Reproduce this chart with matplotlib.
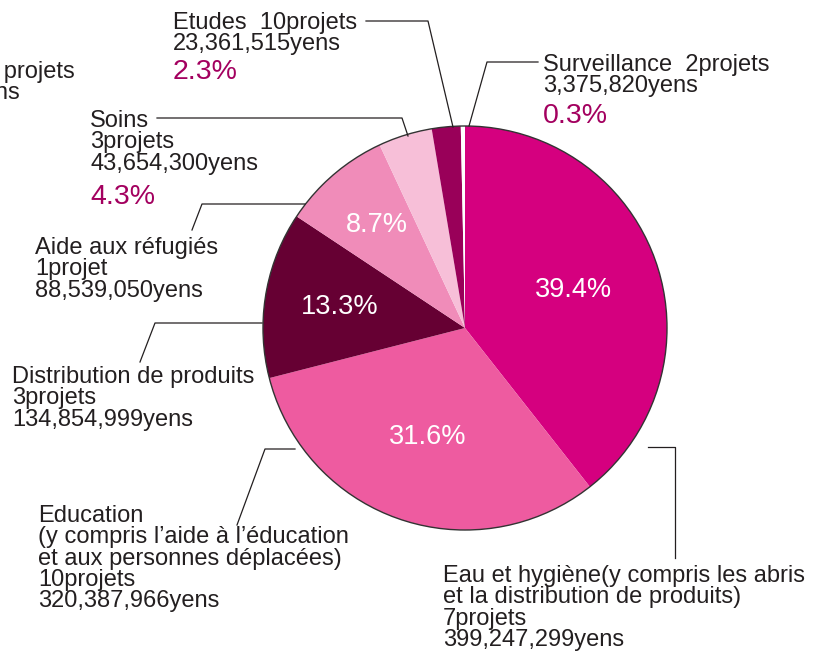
import numpy as np
import matplotlib.pyplot as plt
from matplotlib.patches import Circle

plt.rcParams['font.family'] = ['Liberation Sans', 'DejaVu Sans']

W, H = 830, 653

# data (yens), clockwise from 12 o'clock
categories = ["Eau et hygiène", "Education", "Distribution de produits",
              "Aide aux réfugiés", "Soins", "Etudes", "Surveillance"]
amounts = [399247299, 320387966, 134854999, 88539050, 43654300, 23361515, 3375820]
projects = ["7projets", "10projets", "3projets", "1projet", "3projets", "10projets", "2projets"]
colors = ["#D5007F", "#EE5BA0", "#660033", "#F08CB9", "#F7BFD8", "#990059", "#FFFFFF"]

label_texts = [
    "Eau et hygiène(y compris les abris\net la distribution de produits)\n7projets\n399,247,299yens",
    "Education\n(y compris l\u2019aide à l\u2019éducation\net aux personnes déplacées)\n10projets\n320,387,966yens",
    "Distribution de produits\n3projets\n134,854,999yens",
    "Aide aux réfugiés\n1projet\n88,539,050yens",
    "Soins\n3projets\n43,654,300yens",
    "Etudes  10projets\n23,361,515yens",
    "Surveillance  2projets\n3,375,820yens",
]

total = sum(amounts)
pcts = [a / total * 100 for a in amounts]


def py(y):
    return H - y


fig = plt.figure(figsize=(W / 100, H / 100), dpi=100)
ax = fig.add_axes([0, 0, 1, 1])

cx, cy, R = 465, 328, 202
wedges, _ = ax.pie(amounts, colors=colors, startangle=90, counterclock=False,
                   center=(cx, py(cy)), radius=R,
                   wedgeprops=dict(linewidth=0))
ax.add_patch(Circle((cx, py(cy)), R, fill=False, lw=1.0, ec="#333333", zorder=3))
ax.set_xlim(0, W)
ax.set_ylim(0, H)
ax.set_aspect("auto")
ax.axis("off")

# percentages inside the large slices
inner_r = [0.57, 0.57, 0.63, 0.67]
for w, p, rf in zip(wedges[:4], pcts[:4], inner_r):
    mid = np.deg2rad((w.theta1 + w.theta2) / 2)
    ax.text(cx + rf * R * np.cos(mid), py(cy) + rf * R * np.sin(mid), f"{p:.1f}%",
            color="white", fontsize=19.5, ha="center", va="center")

txt = dict(fontsize=17, color="#231F20", linespacing=0.96, ha="left", va="top")
pct_col = "#A3005F"

# label text positions (left, top)
label_pos = [(443, 565), (38, 505), (12, 366), (35, 237), (90, 110), (173, 12), (543, 54)]
for t, (x, y) in zip(label_texts, label_pos):
    ax.text(x, py(y), t, **txt)

# outside percentages for small slices
pct_pos = {4: (90, 184), 5: (173, 59), 6: (543, 103)}
for i, (x, y) in pct_pos.items():
    ax.text(x, py(y), f"{pcts[i]:.1f}%", fontsize=20.5, color=pct_col, ha="left", va="top")

# label cut off at the left edge of the reference
ax.text(75, py(61), "Formation 1 projets", fontsize=17, color="#231F20", ha="right", va="top")
ax.text(20, py(82), "1,000,000yens", fontsize=17, color="#231F20", ha="right", va="top")

# leader lines
leaders = [
    [(648, 447), (675, 447), (675, 558)],
    [(295, 449), (265, 449), (237, 525)],
    [(262, 323), (155, 323), (140, 362)],
    [(305, 204), (202, 204), (192, 230)],
    [(408, 136), (402, 118), (157, 118)],
    [(453, 127), (428, 21), (366, 21)],
    [(469, 126), (487, 62), (538, 62)],
]
for pts in leaders:
    xs = [p[0] for p in pts]
    ys = [py(p[1]) for p in pts]
    ax.plot(xs, ys, color="#231F20", lw=0.9, zorder=4)

fig.savefig("out.png", dpi=100)
